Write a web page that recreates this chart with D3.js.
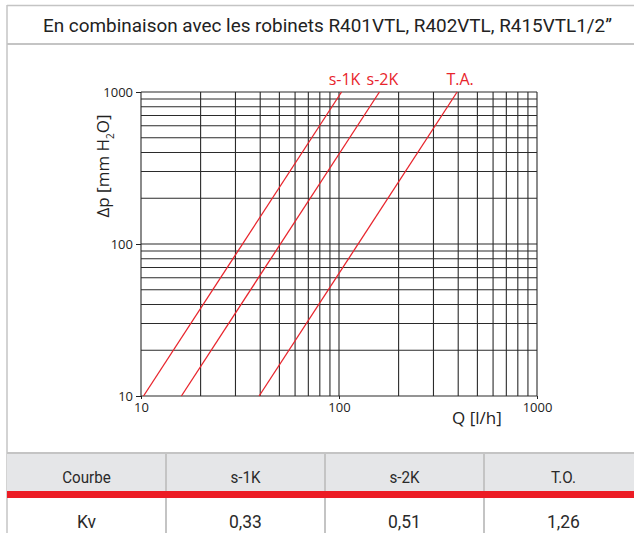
<!DOCTYPE html>
<html>
<head>
<meta charset="utf-8">
<script src="https://cdn.jsdelivr.net/npm/d3@7"></script>
<style>
  body { margin: 0; background: #fff; }
  svg { display: block; }
</style>
</head>
<body>
<svg id="chart"></svg>
<script>
// Kv chart: pressure drop vs flow, log-log, with Kv table below

const titleText = "En combinaison avec les robinets R401VTL, R402VTL, R415VTL1/2\u201D";

const flowTicks = [10, 100, 1000];
const dpTicks = [10, 100, 1000];

const curveNames = ["s-1K", "s-2K", "T.A."];
const curveFlow = [[10.3, 103], [16, 160], [39.5, 395]];
const curveDp = [10, 1000];

const tableHead = ["Courbe", "s-1K", "s-2K", "T.O."];
const tableKv = ["Kv", "0,33", "0,51", "1,26"];

const W = 634, H = 533;
const red = "#e8242c";
const border = "#c4c4c4";

const svg = d3.select("#chart")
    .attr("width", W)
    .attr("height", H);

// frame + title
svg.append("line")
    .attr("x1", 7).attr("x2", W).attr("y1", 5.5).attr("y2", 5.5)
    .attr("stroke", border).attr("stroke-width", 1.5);
svg.append("line")
    .attr("x1", 7).attr("x2", 7).attr("y1", 5).attr("y2", H)
    .attr("stroke", border).attr("stroke-width", 1.5);
svg.append("line")
    .attr("x1", 7).attr("x2", W).attr("y1", 44).attr("y2", 44)
    .attr("stroke", border).attr("stroke-width", 2);

svg.append("text")
    .attr("x", 43)
    .attr("y", 32)
    .attr("font-family", "Roboto")
    .attr("font-size", "17.5px")
    .attr("fill", "#222")
    .attr("textLength", 569)
    .attr("lengthAdjust", "spacingAndGlyphs")
    .text(titleText);

// plot
const x = d3.scaleLog().domain([10, 1000]).range([141, 537]);
const y = d3.scaleLog().domain([10, 1000]).range([396, 92]);

const grid = svg.append("g").attr("stroke", "#2b2b2b").attr("stroke-width", 1.1);

grid.selectAll(".vx")
    .data(x.ticks())
    .join("line")
    .attr("x1", d => x(d)).attr("x2", d => x(d))
    .attr("y1", y(1000)).attr("y2", y(10));

grid.selectAll(".hy")
    .data(y.ticks())
    .join("line")
    .attr("x1", x(10)).attr("x2", x(1000))
    .attr("y1", d => y(d)).attr("y2", d => y(d));

const tickFont = g => {
    g.select(".domain").remove();
    g.selectAll("line").attr("stroke", "#222");
    g.selectAll("text")
        .attr("font-family", "Open Sans")
        .attr("font-size", "13px")
        .attr("fill", "#222");
};

svg.append("g")
    .attr("transform", `translate(0, ${y(10)})`)
    .call(d3.axisBottom(x).tickValues(flowTicks).tickFormat(d3.format("d")).tickSize(3).tickPadding(4).tickSizeOuter(0))
    .call(tickFont);

svg.append("g")
    .attr("transform", `translate(${x(10)}, 0)`)
    .call(d3.axisLeft(y).tickValues(dpTicks).tickFormat(d3.format("d")).tickSize(5).tickPadding(3).tickSizeOuter(0))
    .call(tickFont);

// axis titles
svg.append("text")
    .attr("x", 452)
    .attr("y", 424)
    .attr("font-family", "Open Sans")
    .attr("font-size", "17px")
    .attr("fill", "#222")
    .text("Q [l/h]");

const yl = svg.append("text")
    .attr("transform", "translate(109, 166) rotate(-90)")
    .attr("text-anchor", "middle")
    .attr("font-family", "Open Sans")
    .attr("font-size", "17px")
    .attr("fill", "#222");
yl.append("tspan").text("\u0394p [mm H");
yl.append("tspan").attr("font-size", "10px").attr("dy", 5).text("2");
yl.append("tspan").attr("dy", -5).text("O]");

// curves
const line = d3.line()
    .x(d => x(d[0]))
    .y(d => y(d[1]));

svg.append("g")
    .selectAll("path")
    .data(curveFlow)
    .join("path")
    .attr("fill", "none")
    .attr("stroke", red)
    .attr("stroke-width", 1.3)
    .attr("d", q => line(q.map((v, i) => [v, curveDp[i]])));

svg.append("g")
    .selectAll("text")
    .data(curveNames)
    .join("text")
    .attr("x", (d, i) => x(curveFlow[i][1]) + 3)
    .attr("y", y(1000) - 7)
    .attr("text-anchor", "middle")
    .attr("font-family", "Open Sans")
    .attr("font-size", "16px")
    .attr("fill", red)
    .text(d => d);

// table
const colW = 159;
const col = d3.scaleLinear().domain([0, 1]).range([7, 7 + colW]);

svg.append("rect")
    .attr("x", 7).attr("y", 453)
    .attr("width", W - 7).attr("height", 38)
    .attr("fill", "#e5e6e8");
svg.append("line")
    .attr("x1", 7).attr("x2", W).attr("y1", 453).attr("y2", 453)
    .attr("stroke", border).attr("stroke-width", 2);

svg.append("g")
    .selectAll("line")
    .data(d3.range(1, tableHead.length))
    .join("line")
    .attr("x1", i => col(i)).attr("x2", i => col(i))
    .attr("y1", 453).attr("y2", H)
    .attr("stroke", border).attr("stroke-width", 2);

svg.append("rect")
    .attr("x", 7).attr("y", 491)
    .attr("width", W - 7).attr("height", 7)
    .attr("fill", "#ec1c24");

const cellText = (vals, yy, size) => {
    svg.append("g")
        .selectAll("text")
        .data(vals)
        .join("text")
        .attr("x", (d, i) => col(i + 0.5))
        .attr("y", yy)
        .attr("text-anchor", "middle")
        .attr("font-family", "Roboto")
        .attr("font-size", size)
        .attr("fill", "#2a2a2a")
        .text(d => d)
        .each(function() {
            const w = this.getComputedTextLength();
            d3.select(this)
                .attr("textLength", w * 0.92)
                .attr("lengthAdjust", "spacingAndGlyphs");
        });
};

cellText(tableHead, 482.5, "16.5px");
cellText(tableKv, 527.5, "19px");
</script>
</body>
</html>
